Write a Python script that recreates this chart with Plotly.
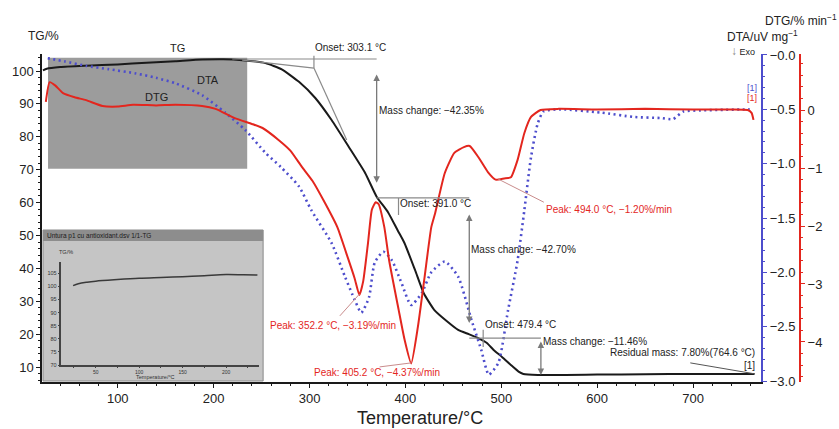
import plotly.graph_objects as go

# ---------------- data ----------------
tg_temp = [22, 26, 40, 67, 100, 130, 160, 188, 210, 230, 254, 271, 289, 306, 323, 341, 358, 370,
           382, 392, 399, 410, 419, 430, 443, 455, 466, 476, 485, 492, 501, 510, 518, 523, 538,
           600, 650, 700, 764]
tg_mass = [100.2, 100.7, 101.2, 101.6, 102.0, 102.5, 103.0, 103.5, 103.6, 103.3, 102.4, 100.5, 96.7,
           91.8, 85.1, 76.9, 69.0, 61.8, 57.0, 51.5, 47.7, 39.5, 32.5, 27.4, 24.0, 21.3, 20.0, 18.8,
           17.3, 15.2, 13.0, 10.6, 8.6, 7.9, 7.6, 7.7, 7.8, 7.9, 7.9]

dtg_temp = [25, 29, 35, 43, 55, 67, 84, 100, 116, 140, 160, 188, 202, 222, 240, 251, 268, 280, 292,
            303, 316, 329, 340, 347, 352, 356, 361, 365, 369, 372, 378, 383, 393, 399, 406, 413,
            420, 427, 431, 441, 451, 461, 467, 476, 486, 494, 503, 510, 517, 524, 531, 541, 560,
            600, 650, 700, 740, 757, 761, 763]
dtg_rate = [0.14, 0.48, 0.42, 0.29, 0.22, 0.17, 0.07, 0.06, 0.09, 0.08, 0.09, 0.07, 0.02, -0.14,
            -0.24, -0.31, -0.52, -0.70, -0.98, -1.22, -1.60, -2.02, -2.55, -2.90, -3.19, -2.95,
            -2.29, -1.72, -1.59, -1.62, -2.02, -2.59, -3.45, -3.95, -4.37, -3.74, -2.88, -2.02,
            -1.78, -1.09, -0.74, -0.64, -0.62, -0.81, -1.07, -1.20, -1.18, -1.16, -0.86, -0.40,
            -0.12, 0.0, 0.02, 0.01, 0.02, 0.01, 0.01, 0.0, -0.05, -0.17]

dta_temp = [27, 45, 67, 90, 119, 140, 160, 188, 212, 233, 254, 270, 289, 302, 323, 337, 347, 354,
            362, 368, 377, 386, 396, 406, 417, 427, 441, 455, 469, 479, 487, 497, 507, 517, 524,
            531, 538, 544, 562, 604, 638, 666, 679, 690, 708, 759]
dta_signal = [-0.03, -0.06, -0.10, -0.13, -0.17, -0.21, -0.26, -0.37, -0.53, -0.69, -0.90, -1.03,
              -1.21, -1.43, -1.73, -2.04, -2.25, -2.37, -2.23, -1.91, -1.81, -1.89, -2.10, -2.30,
              -2.19, -2.00, -1.90, -2.04, -2.44, -2.71, -2.94, -2.83, -2.35, -1.89, -1.43, -0.94,
              -0.63, -0.52, -0.50, -0.53, -0.57, -0.58, -0.59, -0.52, -0.51, -0.50]

inset_temp = [24, 30, 40, 50, 75, 100, 125, 150, 175, 200, 220, 236]
inset_mass = [100.3, 101.0, 101.6, 102.0, 102.6, 103.1, 103.4, 103.7, 104.1, 104.5, 104.4, 104.3]

x_ticks = [100, 200, 300, 400, 500, 600, 700]
tg_ticks = [10, 20, 30, 40, 50, 60, 70, 80, 90, 100]
dta_ticks = [0.0, -0.5, -1.0, -1.5, -2.0, -2.5, -3.0]
dta_ticktext = ["\u22120.0", "\u22120.5", "\u22121.0", "\u22121.5", "\u22122.0", "\u22122.5", "\u22123.0"]
dtg_ticks = [0, -1, -2, -3, -4]
dtg_ticktext = ["0", "\u22121", "\u22122", "\u22123", "\u22124"]
inset_yticks = [70, 75, 80, 85, 90, 95, 100, 105]
inset_xticks = [50, 100, 150, 200]

# ---------------- layout geometry ----------------
W, H = 839, 429
ML, MR, MT, MB = 39, 39, 54, 47
PW, PH = W - ML - MR, H - MT - MB
FONT = "Liberation Sans, Arial, Helvetica, sans-serif"
BLACK = "#1a1a1a"
RED = "#e3261e"
BLUE = "#4d4dcc"
GRAY = "#7a7a7a"


def P(px, py):
    return (px - ML) / PW, (H - MB - py) / PH


xdom_end = (761 - ML) / PW

fig = go.Figure()

fig.add_trace(go.Scatter(x=dta_temp, y=dta_signal, yaxis="y2", mode="lines",
                         line=dict(color=BLUE, width=2.6, dash="2px,3.5px", shape="spline", smoothing=0.6),
                         showlegend=False, hoverinfo="skip"))
fig.add_trace(go.Scatter(x=dtg_temp, y=dtg_rate, yaxis="y3", mode="lines",
                         line=dict(color=RED, width=2, shape="spline", smoothing=0.5),
                         showlegend=False, hoverinfo="skip"))
fig.add_trace(go.Scatter(x=tg_temp, y=tg_mass, yaxis="y", mode="lines",
                         line=dict(color=BLACK, width=2, shape="spline", smoothing=0.5),
                         showlegend=False, hoverinfo="skip"))
fig.add_trace(go.Scatter(x=inset_temp, y=inset_mass, xaxis="x2", yaxis="y4", mode="lines",
                         line=dict(color="#3a3a3a", width=1.5, shape="spline"),
                         showlegend=False, hoverinfo="skip"))

tickfont = dict(family=FONT, size=13, color="#222")

fig.update_layout(
    width=W, height=H,
    margin=dict(l=ML, r=MR, t=MT, b=MB),
    paper_bgcolor="white", plot_bgcolor="rgba(0,0,0,0)",
    font=dict(family=FONT, color="#222"),
    xaxis=dict(domain=[0, xdom_end], range=[21, 771], anchor="y",
               tickvals=x_ticks, ticks="outside", ticklen=4, tickcolor=BLACK,
               showline=True, linecolor=BLACK, linewidth=1.5, showgrid=False, zeroline=False,
               tickfont=tickfont,
               minor=dict(dtick=20, ticks="outside", ticklen=2, tickcolor=BLACK)),
    yaxis=dict(range=[5.44, 105.17], tickvals=tg_ticks, ticks="outside", ticklen=4,
               tickcolor=BLACK, showline=True, linecolor=BLACK, linewidth=1.5,
               showgrid=False, zeroline=False, tickfont=tickfont,
               minor=dict(dtick=2, ticks="outside", ticklen=2, tickcolor=BLACK)),
    yaxis2=dict(overlaying="y", side="right", anchor="x", range=[-3.008, 0.009],
                tickvals=dta_ticks, ticktext=dta_ticktext, ticks="outside", ticklen=4,
                tickcolor=BLUE, showline=True, linecolor=BLUE, linewidth=2,
                showgrid=False, zeroline=False, tickfont=tickfont,
                minor=dict(dtick=0.1, ticks="outside", ticklen=2, tickcolor=BLUE)),
    yaxis3=dict(overlaying="y", side="right", anchor="free", position=1.0,
                range=[-4.69, 0.966], tickvals=dtg_ticks, ticktext=dtg_ticktext,
                ticks="outside", ticklen=4, tickcolor=RED, showline=True, linecolor=RED,
                linewidth=2, showgrid=False, zeroline=False, tickfont=tickfont,
                minor=dict(dtick=0.2, ticks="outside", ticklen=2, tickcolor=RED)),
    xaxis2=dict(domain=[P(58, 0)[0], P(257, 0)[0]], range=[10, 238], anchor="y4",
                tickvals=inset_xticks, ticks="outside", ticklen=1.5, tickcolor="#444",
                showline=True, linecolor="#444", linewidth=1.5, showgrid=False, zeroline=False,
                tickfont=dict(family=FONT, size=5, color="#333"),
                minor=dict(dtick=25, ticks="outside", ticklen=1, tickcolor="#444")),
    yaxis4=dict(domain=[P(0, 365)[1], P(0, 262)[1]], range=[70, 109.3], anchor="x2",
                tickvals=inset_yticks, ticks="outside", ticklen=1.5, tickcolor="#444",
                showline=True, linecolor="#444", linewidth=1.5, showgrid=False, zeroline=False,
                tickfont=dict(family=FONT, size=5.5, color="#333")),
)

shapes = []
# grey block behind start of curves
shapes.append(dict(type="rect", xref="x", yref="y", x0=27.3, x1=235, y0=70.3, y1=104.0,
                   fillcolor="#9c9c9c", line=dict(width=0), layer="below"))
# inset panel
x0, y0 = P(40, 230)
x1, y1 = P(261, 381)
shapes.append(dict(type="rect", xref="paper", yref="paper", x0=x0, x1=x1, y0=y1, y1=y0,
                   fillcolor="#c5c5c5", line=dict(color="#8a8a8a", width=1), layer="below"))
hx0, hy0 = P(40, 230)
hx1, hy1 = P(261, 241)
shapes.append(dict(type="rect", xref="paper", yref="paper", x0=hx0, x1=hx1, y0=hy1, y1=hy0,
                   fillcolor="#8d8d8d", line=dict(width=0), layer="below"))

gl = dict(color="#8a8a8a", width=1.2)
# Onset 303.1
shapes += [
    dict(type="line", xref="x", yref="y", x0=219.4, x1=370, y0=103.65, y1=103.65, line=gl),
    dict(type="line", xref="x", yref="y", x0=229.8, x1=304.6, y0=103.3, y1=100.9, line=gl),
    dict(type="line", xref="x", yref="y", x0=304.6, x1=338.8, y0=100.9, y1=79.0, line=gl),
    dict(type="line", xref="x", yref="y", x0=304.6, x1=304.6, y0=104.6, y1=100.9, line=gl),
]
# Onset 391.0
shapes += [
    dict(type="line", xref="x", yref="y", x0=370, x1=466.6, y0=61.4, y1=61.4, line=gl),
    dict(type="line", xref="x", yref="y", x0=392.8, x1=392.8, y0=61.4, y1=56.2, line=gl),
]
# Onset 479.4
shapes += [
    dict(type="line", xref="x", yref="y", x0=466.6, x1=541.3, y0=18.8, y1=18.8, line=gl),
    dict(type="line", xref="x", yref="y", x0=481.1, x1=481.1, y0=21.3, y1=16.1, line=gl),
]
# residual pointer
shapes.append(dict(type="line", xref="x", yref="y", x0=697.1, x1=764.6, y0=11.25, y1=7.9,
                   line=dict(color="#555", width=1)))
# peak pointers (DTG axis)
pl = dict(color="#c98c8c", width=1)
shapes += [
    dict(type="line", xref="x", yref="y3", x0=496.7, x1=544.4, y0=-1.19, y1=-1.59, line=pl),
    dict(type="line", xref="x", yref="y3", x0=352.3, x1=331.6, y0=-3.17, y1=-3.55, line=pl),
    dict(type="line", xref="x", yref="y3", x0=406.3, x1=373.1, y0=-4.36, y1=-4.43, line=pl),
]
fig.update_layout(shapes=shapes)

ann = []


def txt(text, x, y, xref="x", yref="y", size=10, color="#222", xanchor="left", yanchor="middle"):
    ann.append(dict(text=text, x=x, y=y, xref=xref, yref=yref, showarrow=False,
                    font=dict(family=FONT, size=size, color=color),
                    xanchor=xanchor, yanchor=yanchor))


def ptxt(text, px, py, **kw):
    x, y = P(px, py)
    txt(text, x, y, xref="paper", yref="paper", **kw)


def darrow(x, ya, yb):
    ann.append(dict(x=x, y=yb, ax=x, ay=ya, xref="x", yref="y", axref="x", ayref="y",
                    text="", showarrow=True, arrowhead=2, arrowside="end+start",
                    arrowsize=1, arrowwidth=1.3, arrowcolor="#7a7a7a"))


darrow(370, 99.4, 66.0)
darrow(466.6, 56.8, 23.4)
darrow(541.3, 18.2, 7.6)

ptxt("Onset: 303.1 \u00b0C", 311, 48)
txt("Mass change: \u221242.35%", 370, 88.1)
txt("Onset: 391.0 \u00b0C", 391.8, 59.6)
txt("Mass change: \u221242.70%", 466.6, 45.6)
txt("Onset: 479.4 \u00b0C", 481.0, 22.8)
txt("Mass change: \u221211.46%", 541.3, 17.9)
txt("Residual mass: 7.80%(764.6 \u00b0C)", 766.7, 14.3, xanchor="right")
txt("[1]", 766.7, 10.6, xanchor="right")
ptxt("TG", 175, 48, size=11, xanchor="center")
txt("DTA", 181.0, 97.3, size=11)
txt("DTG", 126.0, 92.1, size=11)

txt("Peak: 494.0 \u00b0C, \u22121.20%/min", 544.4, -1.71, yref="y3", color=RED)
txt("Peak: 352.2 \u00b0C, \u22123.19%/min", 256.8, -3.71, yref="y3", color=RED)
txt("Peak: 405.2 \u00b0C, \u22124.37%/min", 302.5, -4.52, yref="y3", color=RED)

ptxt("[1]", 752, 88, size=9, color=BLUE, xanchor="center")
ptxt("[1]", 752, 98, size=9, color=RED, xanchor="center")

ptxt("TG/%", 23, 36, size=12, xanchor="left")
ptxt("DTA/uV mg<sup>\u22121</sup>", 800, 36, size=12, xanchor="right")
ptxt("DTG/% min<sup>\u22121</sup>", 839, 20, size=12, xanchor="right")
ptxt("<span style='color:#888;font-size:12px'>\u2193</span> Exo", 757, 51, size=9, xanchor="right")
ptxt("Temperature/\u00b0C", 418, 418, size=18, xanchor="center")

# inset texts
ptxt("Untura p1 cu antioxidant.dsv 1/1-TG", 42, 235.5, size=6.5, color="#1a1a1a")
ptxt("TG/%", 54, 252, size=5.5, color="#333")
ptxt("Temperature/\u00b0C", 153, 376.5, size=5.5, color="#333", xanchor="center")

fig.update_layout(annotations=ann)

fig.write_html("out.html")
